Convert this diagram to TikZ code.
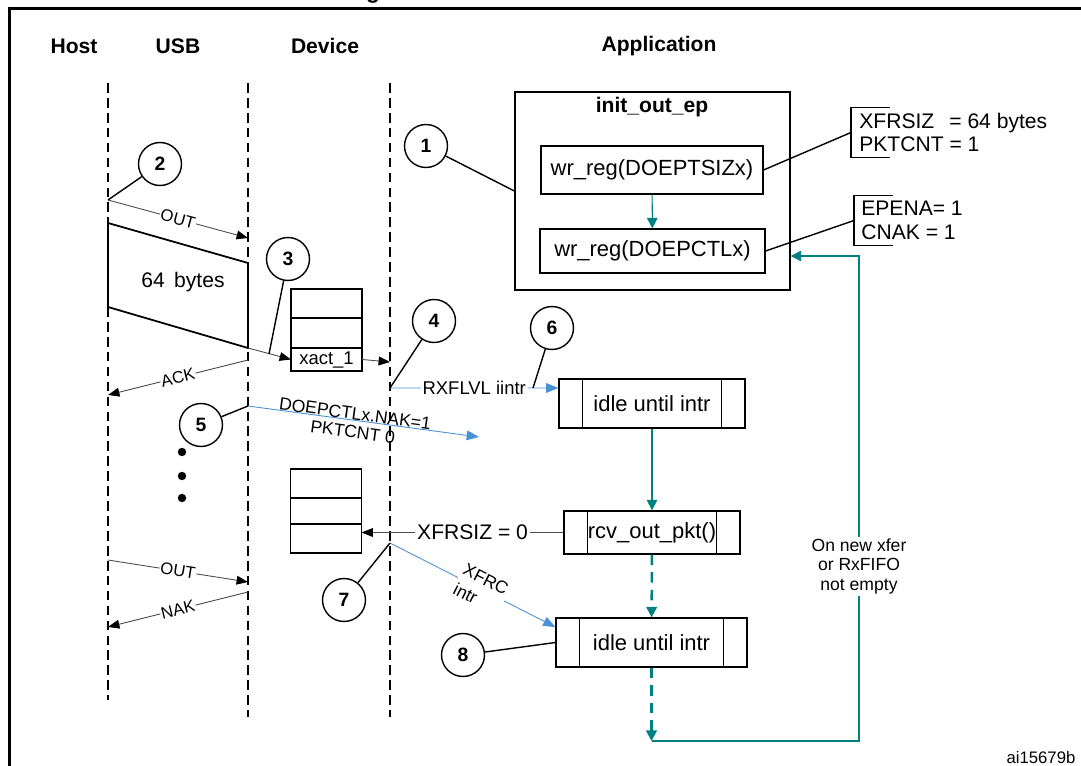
\documentclass[tikz,border=0pt]{standalone}
\usepackage{fontspec}
\setmainfont{Liberation Sans}
\usetikzlibrary{arrows.meta,positioning}
\definecolor{flowteal}{RGB}{0,128,128}
\definecolor{intrblue}{RGB}{72,145,215}
\tikzset{
  lifeline/.style={line width=1.5pt, dash pattern=on 5.5pt off 3pt},
  header/.style={font=\bfseries\fontsize{12}{14}\selectfont},
  callout/.style={draw, circle, line width=0.8pt, minimum size=0.86cm, inner sep=0pt,
    font=\bfseries\fontsize{11}{13}\selectfont},
  pointer/.style={line width=0.8pt},
  msg/.style={draw=black!70, line width=0.5pt, -{Triangle[length=6.5pt,width=5pt,color=black]}},
  msglabel/.style={fill=white, inner sep=0.5pt, sloped, font=\fontsize{9.5}{11}\selectfont},
  intr/.style={draw=intrblue, line width=0.5pt, -{Triangle[length=7pt,width=5.5pt]}},
  intrlabel/.style={inner sep=0.5pt, sloped, font=\fontsize{10}{11}\selectfont},
  flow/.style={draw=flowteal, line width=0.6pt, -{Triangle[length=6pt,width=6pt]}},
  flowdash/.style={flow, line width=1.4pt, dash pattern=on 6pt off 4pt},
  regbox/.style={draw, line width=0.7pt, inner sep=0pt, font=\fontsize{12.5}{15}\selectfont},
  procbox/.style={regbox, minimum height=0.98cm,
    path picture={\draw[line width=0.7pt]
      ([xshift=0.47cm]path picture bounding box.north west) -- ([xshift=0.47cm]path picture bounding box.south west)
      ([xshift=-0.47cm]path picture bounding box.north east) -- ([xshift=-0.47cm]path picture bounding box.south east);}},
  fifocell/.style={draw, line width=0.6pt, minimum width=1.42cm, inner sep=0pt, outer sep=0pt,
    font=\fontsize{10.5}{12}\selectfont},
  regvals/.style={anchor=west, align=left, minimum height=0.98cm, inner xsep=0.16cm, inner ysep=0pt,
    font=\fontsize{12}{13.5}\selectfont},
}
\begin{document}
\begin{tikzpicture}[x=0.02cm,y=-0.02cm]
  \useasboundingbox (0,0) rectangle (1081,766);
  \clip (0,0) rectangle (1081,766);
  \pgfmathsetmacro{\xhost}{108}
  \pgfmathsetmacro{\xusb}{248}
  \pgfmathsetmacro{\xdev}{390}
  \pgfmathsetmacro{\ltop}{83}
  \draw[line width=1.7pt] (9.5,9) rectangle (1100,790);
  \node[anchor=base, font=\bfseries\fontsize{13}{15}\selectfont] (caption) at (373,-1) {g};
  % column heads
  \node[header] (host) at (74,46) {Host};
  \node[header] (usb) at (178,46) {USB};
  \node[header] (device) at (325,46) {Device};
  \node[header] (app) at (659,46) {Application};
  % life lines
  \draw[lifeline] (\xhost,\ltop) -- (\xhost,700);
  \draw[lifeline] (\xusb,\ltop) -- (\xusb,717);
  \draw[lifeline] (\xdev,\ltop) -- (\xdev,717);
  % points on the life lines
  \coordinate (outHostA) at (\xhost,200);
  \coordinate (outUsbA) at (\xusb,238);
  \coordinate (dataHT) at (\xhost,223);
  \coordinate (dataUT) at (\xusb,263);
  \coordinate (dataUB) at (\xusb,348);
  \coordinate (dataHB) at (\xhost,307);
  \coordinate (dataMid) at (269,354);
  \coordinate (devRx) at (\xdev,362);
  \coordinate (ackUsb) at (\xusb,360);
  \coordinate (ackHost) at (\xhost,395);
  \coordinate (nakUsb) at (\xusb,406);
  \coordinate (nakEnd) at (479,437);
  \coordinate (rxStart) at (\xdev,388);
  \coordinate (rxMid) at (533,388);
  \coordinate (xfrcStart) at (\xdev,543);
  \coordinate (outHostB) at (\xhost,560);
  \coordinate (outUsbB) at (\xusb,582);
  \coordinate (nakUsbB) at (\xusb,592);
  \coordinate (nakHostB) at (\xhost,627);
  \coordinate (loopBR) at (859,741);
  \coordinate (loopTR) at (859,256);
  % application side
  \node[draw, line width=0.8pt, minimum width=5.5cm, minimum height=3.96cm] (init) at (652.5,191) {};
  \node[header] (initname) at (652,107) {init\_out\_ep};
  \node[regbox, minimum width=4.44cm, minimum height=0.96cm] (tsiz) at (652,170) {wr\_reg(DOEPTSIZx)};
  \node[regbox, minimum width=4.5cm, minimum height=0.88cm] (ctl) at (652.5,251) {wr\_reg(DOEPCTLx)};
  \node[regvals] (sizvals) at (851,132.5) {XFRSIZ\hspace{0.3cm}= 64 bytes\\PKTCNT = 1};
  \node[regvals, inner xsep=0.14cm] (epvals) at (854,220.5) {EPENA= 1\\CNAK = 1};
  \draw[line width=0.7pt] ([xshift=0.78cm]sizvals.north west) -- (sizvals.north west)
    -- (sizvals.south west) -- ([xshift=0.78cm]sizvals.south west);
  \draw[line width=0.7pt] ([xshift=0.78cm]epvals.north west) -- (epvals.north west)
    -- (epvals.south west) -- ([xshift=0.78cm]epvals.south west);
  \draw[pointer] (tsiz.east) -- (sizvals.west);
  \draw[pointer] (ctl.east) -- (epvals.west);
  \draw[flow] (tsiz) -- (ctl);
  \node[procbox, minimum width=3.72cm] (idle1) at (652,403.5) {idle until intr};
  \node[procbox, minimum width=3.52cm, minimum height=0.86cm] (rcv) at (652,532.5) {rcv\_out\_pkt()};
  \node[procbox, minimum width=3.82cm] (idle2) at (651.5,642.5) {idle until intr};
  \coordinate (loopBL) at (idle2.south |- loopBR);
  \draw[flow] (idle1) -- (rcv);
  \draw[flowdash] (rcv) -- (idle2);
  \draw[flowdash] (idle2) -- (loopBL);
  \draw[flow] (loopBL) -- (loopBR)
    -- node[pos=0.36, fill=white, inner sep=1pt, align=center, font=\fontsize{10}{11}\selectfont]
       {On new xfer\\or RxFIFO\\not empty} (loopTR) -- (init.east |- loopTR);
  % FIFOs in the device
  \node[fifocell, minimum height=0.58cm] (fifoA1) at (326.5,303.5) {};
  \node[fifocell, minimum height=0.6cm, below=0pt of fifoA1] (fifoA2) {};
  \node[fifocell, minimum height=0.46cm, below=0pt of fifoA2] (fifoA3) {xact\_1};
  \node[fifocell, minimum height=0.58cm] (fifoB1) at (326,483.5) {};
  \node[fifocell, minimum height=0.52cm, below=0pt of fifoB1] (fifoB2) {};
  \node[fifocell, minimum height=0.58cm, below=0pt of fifoB2] (fifoB3) {};
  % bus traffic
  \draw[msg] (outHostA) -- node[msglabel] {OUT} (outUsbA);
  \draw[line width=1pt] (dataHT) -- (dataUT) -- (dataUB) -- (dataHB) -- cycle;
  \node[font=\fontsize{12}{14}\selectfont] (bytes) at (183,282) {64\, bytes};
  \draw[msg] (dataUB) -- (fifoA3.west);
  \draw[msg] (fifoA3.east) -- (devRx);
  \draw[msg] (ackUsb) -- node[msglabel] {ACK} (ackHost);
  \foreach \y in {452,476,498} \fill (182,\y) circle (2.4pt);
  \draw[msg] (outHostB) -- node[msglabel] {OUT} (outUsbB);
  \draw[msg] (nakUsbB) -- node[msglabel] {NAK} (nakHostB);
  % interrupts and register updates
  \draw[intr] (nakUsb) -- node[intrlabel, above, pos=0.46, inner sep=0pt] {DOEPCTLx.NAK=1}
    node[intrlabel, below, pos=0.46, inner sep=3pt] {PKTCNT 0} (nakEnd);
  \draw[intr] (rxStart) -- node[fill=white, inner sep=1pt, font=\fontsize{10.5}{12}\selectfont] {RXFLVL iintr}
    ([yshift=0.31cm]idle1.west);
  \draw[msg] (rcv.west) -- node[pos=0.45, fill=white, inner sep=1pt, font=\fontsize{12}{14}\selectfont] {XFRSIZ = 0}
    (rcv.west -| fifoB3.east);
  \draw[intr] (xfrcStart) -- node[pos=0.55, fill=white, sloped, align=left, inner sep=1pt,
    font=\fontsize{10}{12.5}\selectfont] {XFRC\\intr} ([yshift=0.31cm]idle2.west);
  % numbered callouts
  \node[callout] (c1) at (426,146) {1};
  \node[callout] (c2) at (160,164) {2};
  \node[callout] (c3) at (288,259) {3};
  \node[callout] (c4) at (434,321) {4};
  \node[callout] (c5) at (201,425) {5};
  \node[callout] (c6) at (552,328) {6};
  \node[callout] (c7) at (344,600) {7};
  \node[callout] (c8) at (463,655) {8};
  \draw[pointer] (c1) -- (init.west);
  \draw[pointer] (c2) -- (outHostA);
  \draw[pointer] (c3) -- (dataMid);
  \draw[pointer] (c4) -- (rxStart);
  \draw[pointer] (c5) -- (nakUsb);
  \draw[pointer] (c6) -- (rxMid);
  \draw[pointer] (c7) -- (xfrcStart);
  \draw[pointer] (c8) -- (idle2.west);
  \node[font=\fontsize{9.5}{11}\selectfont] (figid) at (1041,758) {ai15679b};
\end{tikzpicture}
\end{document}
